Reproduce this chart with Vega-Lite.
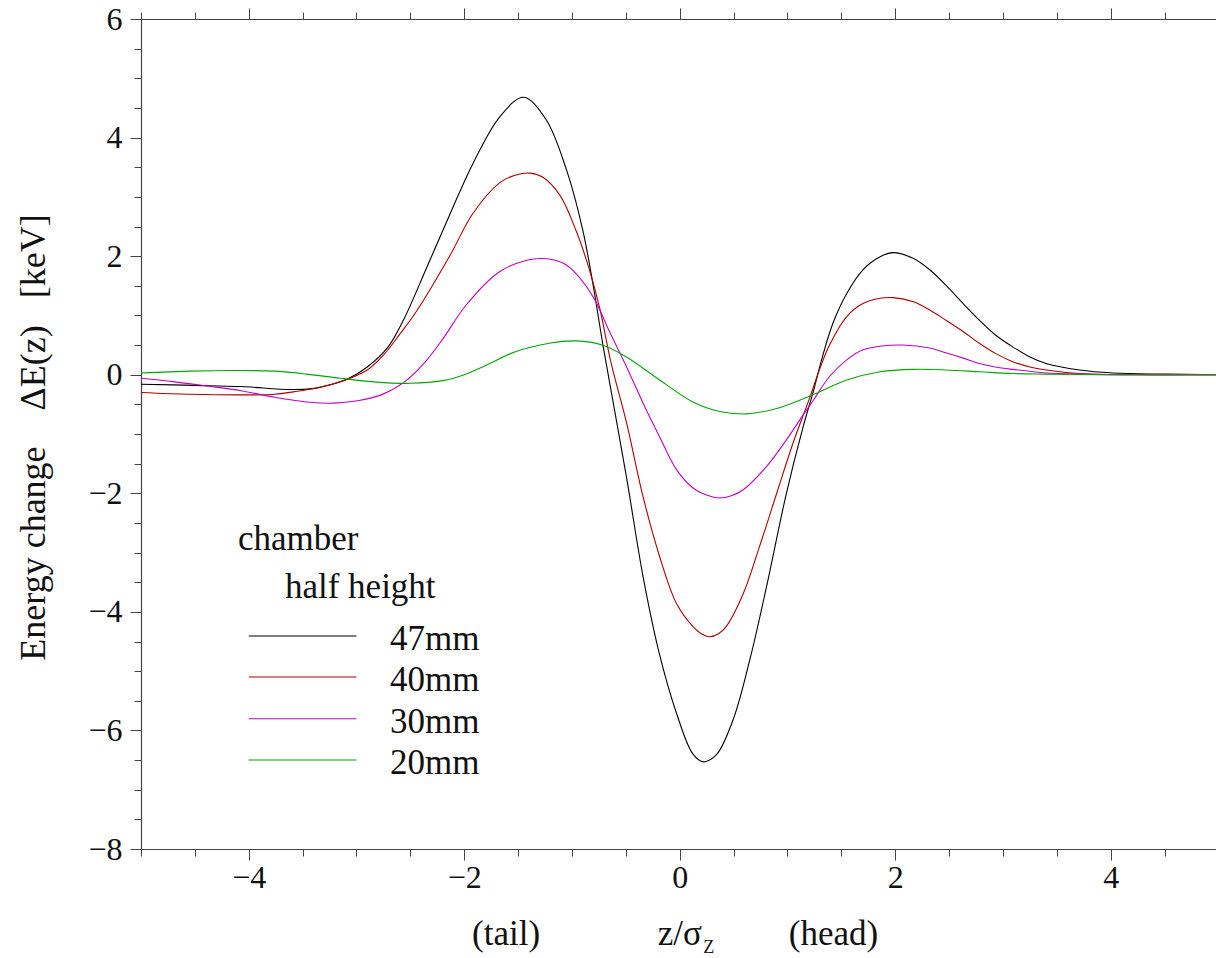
{
  "$schema": "https://vega.github.io/schema/vega-lite/v6.json",
  "width": 1075,
  "height": 830,
  "autosize": {"type": "none"},
  "padding": {"left": 141, "top": 19, "right": 0, "bottom": 109},
  "background": "white",
  "config": {
    "font": "Liberation Serif",
    "view": {"stroke": null},
    "axis": {
      "grid": false,
      "domainColor": "#444444",
      "domainWidth": 1.2,
      "tickColor": "#444444",
      "tickWidth": 1,
      "labelColor": "#111111",
      "labelFont": "Liberation Serif",
      "labelFontSize": 32,
      "labelFlush": false,
      "labelOverlap": false,
      "titleFont": "Liberation Serif",
      "titleFontWeight": "normal",
      "titleFontSize": 36,
      "titleColor": "#111111"
    },
    "text": {"font": "Liberation Serif", "color": "#111111", "baseline": "alphabetic"}
  },
  "data": {
    "values": [
      {"z": -5, "dE": -0.16, "series": "47mm"},
      {"z": -4.5, "dE": -0.18, "series": "47mm"},
      {"z": -4.07, "dE": -0.2, "series": "47mm"},
      {"z": -3.61, "dE": -0.25, "series": "47mm"},
      {"z": -3.39, "dE": -0.23, "series": "47mm"},
      {"z": -3.24, "dE": -0.17, "series": "47mm"},
      {"z": -3.08, "dE": -0.07, "series": "47mm"},
      {"z": -2.9, "dE": 0.13, "series": "47mm"},
      {"z": -2.71, "dE": 0.46, "series": "47mm"},
      {"z": -2.57, "dE": 0.9, "series": "47mm"},
      {"z": -2.35, "dE": 1.8, "series": "47mm"},
      {"z": -2.13, "dE": 2.72, "series": "47mm"},
      {"z": -1.92, "dE": 3.56, "series": "47mm"},
      {"z": -1.67, "dE": 4.35, "series": "47mm"},
      {"z": -1.45, "dE": 4.68, "series": "47mm"},
      {"z": -1.24, "dE": 4.3, "series": "47mm"},
      {"z": -1.05, "dE": 3.45, "series": "47mm"},
      {"z": -0.9, "dE": 2.44, "series": "47mm"},
      {"z": -0.8, "dE": 1.47, "series": "47mm"},
      {"z": -0.71, "dE": 0.47, "series": "47mm"},
      {"z": -0.495, "dE": -1.72, "series": "47mm"},
      {"z": -0.34, "dE": -3.41, "series": "47mm"},
      {"z": -0.19, "dE": -4.7, "series": "47mm"},
      {"z": -0.03, "dE": -5.71, "series": "47mm"},
      {"z": 0.12, "dE": -6.39, "series": "47mm"},
      {"z": 0.22, "dE": -6.53, "series": "47mm"},
      {"z": 0.34, "dE": -6.41, "series": "47mm"},
      {"z": 0.495, "dE": -5.82, "series": "47mm"},
      {"z": 0.65, "dE": -4.81, "series": "47mm"},
      {"z": 0.805, "dE": -3.58, "series": "47mm"},
      {"z": 0.99, "dE": -2.0, "series": "47mm"},
      {"z": 1.145, "dE": -0.88, "series": "47mm"},
      {"z": 1.24, "dE": -0.28, "series": "47mm"},
      {"z": 1.33, "dE": 0.34, "series": "47mm"},
      {"z": 1.42, "dE": 0.86, "series": "47mm"},
      {"z": 1.55, "dE": 1.37, "series": "47mm"},
      {"z": 1.7, "dE": 1.77, "series": "47mm"},
      {"z": 1.86, "dE": 1.99, "series": "47mm"},
      {"z": 1.98, "dE": 2.06, "series": "47mm"},
      {"z": 2.17, "dE": 1.96, "series": "47mm"},
      {"z": 2.32, "dE": 1.77, "series": "47mm"},
      {"z": 2.47, "dE": 1.51, "series": "47mm"},
      {"z": 2.63, "dE": 1.2, "series": "47mm"},
      {"z": 2.78, "dE": 0.92, "series": "47mm"},
      {"z": 2.93, "dE": 0.67, "series": "47mm"},
      {"z": 3.09, "dE": 0.47, "series": "47mm"},
      {"z": 3.25, "dE": 0.3, "series": "47mm"},
      {"z": 3.4, "dE": 0.19, "series": "47mm"},
      {"z": 3.71, "dE": 0.08, "series": "47mm"},
      {"z": 4.02, "dE": 0.03, "series": "47mm"},
      {"z": 4.5, "dE": 0.01, "series": "47mm"},
      {"z": 5, "dE": 0, "series": "47mm"},

      {"z": -5, "dE": -0.3, "series": "40mm"},
      {"z": -4.54, "dE": -0.33, "series": "40mm"},
      {"z": -4.07, "dE": -0.34, "series": "40mm"},
      {"z": -3.76, "dE": -0.33, "series": "40mm"},
      {"z": -3.55, "dE": -0.28, "series": "40mm"},
      {"z": -3.36, "dE": -0.22, "series": "40mm"},
      {"z": -3.15, "dE": -0.12, "series": "40mm"},
      {"z": -2.9, "dE": 0.08, "series": "40mm"},
      {"z": -2.75, "dE": 0.33, "series": "40mm"},
      {"z": -2.6, "dE": 0.68, "series": "40mm"},
      {"z": -2.44, "dE": 1.08, "series": "40mm"},
      {"z": -2.13, "dE": 2.02, "series": "40mm"},
      {"z": -1.92, "dE": 2.72, "series": "40mm"},
      {"z": -1.67, "dE": 3.24, "series": "40mm"},
      {"z": -1.52, "dE": 3.37, "series": "40mm"},
      {"z": -1.39, "dE": 3.4, "series": "40mm"},
      {"z": -1.27, "dE": 3.33, "series": "40mm"},
      {"z": -1.11, "dE": 3.02, "series": "40mm"},
      {"z": -0.96, "dE": 2.42, "series": "40mm"},
      {"z": -0.84, "dE": 1.78, "series": "40mm"},
      {"z": -0.74, "dE": 1.1, "series": "40mm"},
      {"z": -0.64, "dE": 0.22, "series": "40mm"},
      {"z": -0.495, "dE": -0.8, "series": "40mm"},
      {"z": -0.34, "dE": -2.06, "series": "40mm"},
      {"z": -0.186, "dE": -3.07, "series": "40mm"},
      {"z": -0.03, "dE": -3.86, "series": "40mm"},
      {"z": 0.123, "dE": -4.25, "series": "40mm"},
      {"z": 0.2, "dE": -4.37, "series": "40mm"},
      {"z": 0.28, "dE": -4.42, "series": "40mm"},
      {"z": 0.36, "dE": -4.37, "series": "40mm"},
      {"z": 0.43, "dE": -4.25, "series": "40mm"},
      {"z": 0.59, "dE": -3.69, "series": "40mm"},
      {"z": 0.74, "dE": -2.9, "series": "40mm"},
      {"z": 0.9, "dE": -2.0, "series": "40mm"},
      {"z": 1.05, "dE": -1.16, "series": "40mm"},
      {"z": 1.2, "dE": -0.42, "series": "40mm"},
      {"z": 1.3, "dE": 0.1, "series": "40mm"},
      {"z": 1.39, "dE": 0.5, "series": "40mm"},
      {"z": 1.55, "dE": 0.98, "series": "40mm"},
      {"z": 1.7, "dE": 1.2, "series": "40mm"},
      {"z": 1.86, "dE": 1.29, "series": "40mm"},
      {"z": 1.98, "dE": 1.3, "series": "40mm"},
      {"z": 2.17, "dE": 1.23, "series": "40mm"},
      {"z": 2.32, "dE": 1.09, "series": "40mm"},
      {"z": 2.47, "dE": 0.92, "series": "40mm"},
      {"z": 2.63, "dE": 0.73, "series": "40mm"},
      {"z": 2.78, "dE": 0.53, "series": "40mm"},
      {"z": 2.93, "dE": 0.36, "series": "40mm"},
      {"z": 3.09, "dE": 0.22, "series": "40mm"},
      {"z": 3.25, "dE": 0.13, "series": "40mm"},
      {"z": 3.4, "dE": 0.08, "series": "40mm"},
      {"z": 3.71, "dE": 0.02, "series": "40mm"},
      {"z": 4.2, "dE": 0, "series": "40mm"},
      {"z": 5, "dE": 0, "series": "40mm"},

      {"z": -5, "dE": -0.06, "series": "30mm"},
      {"z": -4.69, "dE": -0.12, "series": "30mm"},
      {"z": -4.39, "dE": -0.19, "series": "30mm"},
      {"z": -4.07, "dE": -0.27, "series": "30mm"},
      {"z": -3.76, "dE": -0.38, "series": "30mm"},
      {"z": -3.46, "dE": -0.46, "series": "30mm"},
      {"z": -3.21, "dE": -0.48, "series": "30mm"},
      {"z": -2.99, "dE": -0.44, "series": "30mm"},
      {"z": -2.77, "dE": -0.34, "series": "30mm"},
      {"z": -2.56, "dE": -0.13, "series": "30mm"},
      {"z": -2.37, "dE": 0.2, "series": "30mm"},
      {"z": -2.2, "dE": 0.6, "series": "30mm"},
      {"z": -1.98, "dE": 1.18, "series": "30mm"},
      {"z": -1.67, "dE": 1.74, "series": "30mm"},
      {"z": -1.42, "dE": 1.93, "series": "30mm"},
      {"z": -1.27, "dE": 1.96, "series": "30mm"},
      {"z": -1.08, "dE": 1.88, "series": "30mm"},
      {"z": -0.96, "dE": 1.7, "series": "30mm"},
      {"z": -0.8, "dE": 1.3, "series": "30mm"},
      {"z": -0.65, "dE": 0.72, "series": "30mm"},
      {"z": -0.495, "dE": 0.14, "series": "30mm"},
      {"z": -0.34, "dE": -0.48, "series": "30mm"},
      {"z": -0.186, "dE": -1.05, "series": "30mm"},
      {"z": -0.03, "dE": -1.6, "series": "30mm"},
      {"z": 0.123, "dE": -1.91, "series": "30mm"},
      {"z": 0.25, "dE": -2.03, "series": "30mm"},
      {"z": 0.37, "dE": -2.08, "series": "30mm"},
      {"z": 0.48, "dE": -2.04, "series": "30mm"},
      {"z": 0.59, "dE": -1.94, "series": "30mm"},
      {"z": 0.805, "dE": -1.55, "series": "30mm"},
      {"z": 0.99, "dE": -1.1, "series": "30mm"},
      {"z": 1.13, "dE": -0.72, "series": "30mm"},
      {"z": 1.24, "dE": -0.43, "series": "30mm"},
      {"z": 1.39, "dE": -0.03, "series": "30mm"},
      {"z": 1.55, "dE": 0.25, "series": "30mm"},
      {"z": 1.7, "dE": 0.42, "series": "30mm"},
      {"z": 1.86, "dE": 0.48, "series": "30mm"},
      {"z": 2.07, "dE": 0.5, "series": "30mm"},
      {"z": 2.32, "dE": 0.45, "series": "30mm"},
      {"z": 2.47, "dE": 0.37, "series": "30mm"},
      {"z": 2.63, "dE": 0.28, "series": "30mm"},
      {"z": 2.78, "dE": 0.19, "series": "30mm"},
      {"z": 2.93, "dE": 0.13, "series": "30mm"},
      {"z": 3.09, "dE": 0.09, "series": "30mm"},
      {"z": 3.4, "dE": 0.03, "series": "30mm"},
      {"z": 3.71, "dE": 0.01, "series": "30mm"},
      {"z": 4.2, "dE": 0, "series": "30mm"},
      {"z": 5, "dE": 0, "series": "30mm"},

      {"z": -5, "dE": 0.03, "series": "20mm"},
      {"z": -4.54, "dE": 0.06, "series": "20mm"},
      {"z": -4.14, "dE": 0.07, "series": "20mm"},
      {"z": -3.76, "dE": 0.06, "series": "20mm"},
      {"z": -3.46, "dE": 0.01, "series": "20mm"},
      {"z": -3.15, "dE": -0.06, "series": "20mm"},
      {"z": -2.84, "dE": -0.12, "series": "20mm"},
      {"z": -2.5, "dE": -0.145, "series": "20mm"},
      {"z": -2.2, "dE": -0.1, "series": "20mm"},
      {"z": -2.0, "dE": 0.0, "series": "20mm"},
      {"z": -1.83, "dE": 0.13, "series": "20mm"},
      {"z": -1.52, "dE": 0.39, "series": "20mm"},
      {"z": -1.21, "dE": 0.53, "series": "20mm"},
      {"z": -0.96, "dE": 0.57, "series": "20mm"},
      {"z": -0.72, "dE": 0.5, "series": "20mm"},
      {"z": -0.495, "dE": 0.3, "series": "20mm"},
      {"z": -0.186, "dE": -0.09, "series": "20mm"},
      {"z": 0.123, "dE": -0.46, "series": "20mm"},
      {"z": 0.37, "dE": -0.62, "series": "20mm"},
      {"z": 0.62, "dE": -0.66, "series": "20mm"},
      {"z": 0.9, "dE": -0.57, "series": "20mm"},
      {"z": 1.22, "dE": -0.35, "series": "20mm"},
      {"z": 1.55, "dE": -0.09, "series": "20mm"},
      {"z": 1.86, "dE": 0.05, "series": "20mm"},
      {"z": 2.17, "dE": 0.09, "series": "20mm"},
      {"z": 2.47, "dE": 0.08, "series": "20mm"},
      {"z": 2.78, "dE": 0.05, "series": "20mm"},
      {"z": 3.09, "dE": 0.02, "series": "20mm"},
      {"z": 3.4, "dE": 0.01, "series": "20mm"},
      {"z": 4, "dE": 0, "series": "20mm"},
      {"z": 5, "dE": 0, "series": "20mm"}
    ]
  },
  "layer": [
    {
      "mark": {"type": "line", "interpolate": "catmull-rom", "strokeWidth": 1.1},
      "encoding": {
        "x": {
          "field": "z", "type": "quantitative",
          "scale": {"domain": [-5, 4.977], "nice": false, "zero": false},
          "axis": {"orient": "bottom", "values": [-4, -2, 0, 2, 4], "tickSize": 11, "labelPadding": 2, "title": null}
        },
        "y": {
          "field": "dE", "type": "quantitative",
          "scale": {"domain": [-8, 6], "nice": false, "zero": false},
          "axis": {
            "orient": "left", "values": [-8, -6, -4, -2, 0, 2, 4, 6], "tickSize": 11, "labelPadding": 8,
            "title": "Energy change\u00a0\u00a0\u00a0\u00a0ΔE(z)\u00a0\u00a0\u00a0[keV]",
            "titleAngle": -90, "titleBaseline": "alphabetic", "titleAlign": "center",
            "titleX": -97, "titleY": 418
          }
        },
        "color": {
          "field": "series", "type": "nominal",
          "scale": {"domain": ["47mm", "40mm", "30mm", "20mm"], "range": ["#000000", "#b00000", "#c400c4", "#00a800"]},
          "legend": null
        }
      }
    },
    {
      "mark": {"type": "point", "opacity": 0},
      "encoding": {
        "x": {"field": "z", "type": "quantitative", "axis": {"orient": "bottom", "values": [-5, -4.5, -4, -3.5, -3, -2.5, -2, -1.5, -1, -0.5, 0, 0.5, 1, 1.5, 2, 2.5, 3, 3.5, 4, 4.5], "tickSize": 7, "labels": false, "domain": false, "title": null}},
        "y": {"field": "dE", "type": "quantitative", "axis": {"orient": "left", "values": [-8, -7.5, -7, -6.5, -6, -5.5, -5, -4.5, -4, -3.5, -3, -2.5, -2, -1.5, -1, -0.5, 0, 0.5, 1, 1.5, 2, 2.5, 3, 3.5, 4, 4.5, 5, 5.5, 6], "tickSize": 7, "labels": false, "domain": false, "title": null}}
      }
    },
    {
      "mark": {"type": "point", "opacity": 0},
      "encoding": {
        "x": {"field": "z", "type": "quantitative", "axis": {"orient": "top", "values": [-4, -2, 0, 2, 4], "tickSize": 11, "labels": false, "title": null}},
        "y": {"field": "dE", "type": "quantitative", "axis": null}
      }
    },
    {
      "mark": {"type": "point", "opacity": 0},
      "encoding": {
        "x": {"field": "z", "type": "quantitative", "axis": {"orient": "top", "values": [-5, -4.5, -4, -3.5, -3, -2.5, -2, -1.5, -1, -0.5, 0, 0.5, 1, 1.5, 2, 2.5, 3, 3.5, 4, 4.5], "tickSize": 7, "labels": false, "domain": false, "title": null}},
        "y": {"field": "dE", "type": "quantitative", "axis": null}
      }
    },
    {
      "data": {"values": [{}]},
      "mark": {"type": "text", "text": "(tail)", "fontSize": 35, "align": "center"},
      "encoding": {
        "x": {"datum": -1.612, "type": "quantitative", "axis": null},
        "y": {"datum": -9.62, "type": "quantitative", "axis": null}
      }
    },
    {
      "data": {"values": [{}]},
      "mark": {"type": "text", "text": "z/σ", "fontSize": 35, "align": "right"},
      "encoding": {
        "x": {"datum": 0.206, "type": "quantitative", "axis": null},
        "y": {"datum": -9.62, "type": "quantitative", "axis": null}
      }
    },
    {
      "data": {"values": [{}]},
      "mark": {"type": "text", "text": "Z", "fontSize": 18, "align": "left"},
      "encoding": {
        "x": {"datum": 0.218, "type": "quantitative", "axis": null},
        "y": {"datum": -9.76, "type": "quantitative", "axis": null}
      }
    },
    {
      "data": {"values": [{}]},
      "mark": {"type": "text", "text": "(head)", "fontSize": 35, "align": "center"},
      "encoding": {
        "x": {"datum": 1.427, "type": "quantitative", "axis": null},
        "y": {"datum": -9.62, "type": "quantitative", "axis": null}
      }
    },
    {
      "data": {"values": [{}]},
      "mark": {"type": "text", "text": "chamber", "fontSize": 35, "align": "left"},
      "encoding": {
        "x": {"datum": -4.1, "type": "quantitative", "axis": null},
        "y": {"datum": -2.957, "type": "quantitative", "axis": null}
      }
    },
    {
      "data": {"values": [{}]},
      "mark": {"type": "text", "text": "half height", "fontSize": 35, "align": "left"},
      "encoding": {
        "x": {"datum": -3.664, "type": "quantitative", "axis": null},
        "y": {"datum": -3.766, "type": "quantitative", "axis": null}
      }
    },
    {
      "data": {"values": [{}]},
      "mark": {"type": "rule", "strokeWidth": 1.1},
      "encoding": {
        "x": {"datum": -4, "type": "quantitative", "axis": null},
        "x2": {"datum": -3},
        "y": {"datum": -4.407, "type": "quantitative", "axis": null},
        "color": {"datum": "47mm", "type": "nominal", "legend": null}
      }
    },
    {
      "data": {"values": [{}]},
      "mark": {"type": "rule", "strokeWidth": 1.1},
      "encoding": {
        "x": {"datum": -4, "type": "quantitative", "axis": null},
        "x2": {"datum": -3},
        "y": {"datum": -5.099, "type": "quantitative", "axis": null},
        "color": {"datum": "40mm", "type": "nominal", "legend": null}
      }
    },
    {
      "data": {"values": [{}]},
      "mark": {"type": "rule", "strokeWidth": 1.1},
      "encoding": {
        "x": {"datum": -4, "type": "quantitative", "axis": null},
        "x2": {"datum": -3},
        "y": {"datum": -5.802, "type": "quantitative", "axis": null},
        "color": {"datum": "30mm", "type": "nominal", "legend": null}
      }
    },
    {
      "data": {"values": [{}]},
      "mark": {"type": "rule", "strokeWidth": 1.1},
      "encoding": {
        "x": {"datum": -4, "type": "quantitative", "axis": null},
        "x2": {"datum": -3},
        "y": {"datum": -6.499, "type": "quantitative", "axis": null},
        "color": {"datum": "20mm", "type": "nominal", "legend": null}
      }
    },
    {
      "data": {"values": [{}]},
      "mark": {"type": "text", "text": "47mm", "fontSize": 35, "align": "left"},
      "encoding": {
        "x": {"datum": -2.689, "type": "quantitative", "axis": null},
        "y": {"datum": -4.643, "type": "quantitative", "axis": null}
      }
    },
    {
      "data": {"values": [{}]},
      "mark": {"type": "text", "text": "40mm", "fontSize": 35, "align": "left"},
      "encoding": {
        "x": {"datum": -2.689, "type": "quantitative", "axis": null},
        "y": {"datum": -5.335, "type": "quantitative", "axis": null}
      }
    },
    {
      "data": {"values": [{}]},
      "mark": {"type": "text", "text": "30mm", "fontSize": 35, "align": "left"},
      "encoding": {
        "x": {"datum": -2.689, "type": "quantitative", "axis": null},
        "y": {"datum": -6.038, "type": "quantitative", "axis": null}
      }
    },
    {
      "data": {"values": [{}]},
      "mark": {"type": "text", "text": "20mm", "fontSize": 35, "align": "left"},
      "encoding": {
        "x": {"datum": -2.689, "type": "quantitative", "axis": null},
        "y": {"datum": -6.735, "type": "quantitative", "axis": null}
      }
    }
  ],
  "resolve": {"axis": {"x": "independent", "y": "independent"}}
}
